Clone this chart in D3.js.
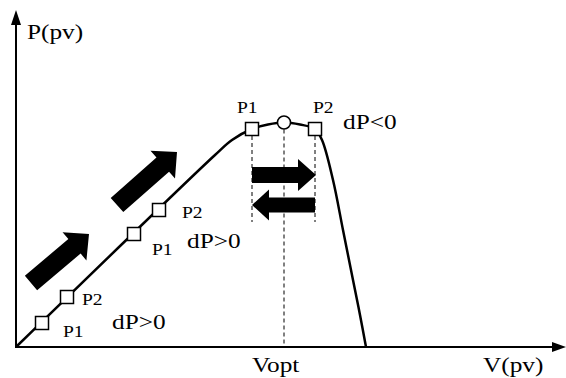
<!DOCTYPE html>
<html>
<head>
<meta charset="utf-8">
<script src="https://cdn.jsdelivr.net/npm/d3@7"></script>
<style>
  body { margin: 0; background: #fff; }
</style>
</head>
<body>
<script>
// P-V curve of a PV panel (arbitrary units)
const curveV = [0, 19.9, 21.6, 23.6, 25.2, 26.8, 28.4, 29.9, 30.6, 31.7, 32.7, 33.7, 34.4, 35.0];
const curveP = [0, 19.2, 20.7, 21.8, 22.25, 22.45, 22.25, 21.8, 20.7, 16.7, 11.7, 6.7, 3.2, 0];

// operating points (squares) and the MPP (circle)
const pointV = [2.6, 5.1, 11.8, 14.3, 23.6, 29.9];
const pointP = [2.4, 5.0, 11.3, 13.7, 21.8, 21.8];
const pointLabel = ["P1", "P2", "P1", "P2", "P1", "P2"];
const mppV = 26.8, mppP = 22.45;

const axisLabels = ["V(pv)", "P(pv)", "Vopt"];

const W = 566, H = 378;
const svg = d3.select("body").append("svg").attr("width", W).attr("height", H)
    .attr("font-family", "'Liberation Serif', 'Times New Roman', Times, serif");

const x = d3.scaleLinear().domain([0, 55]).range([16, 566]);
const y = d3.scaleLinear().domain([0, 33.5]).range([347, 12]);

function setattrs(shape, dict) {
    for (let [prop, val] of Object.entries(dict)) shape.attr(prop, val);
}

// text is a bit wider than plain Times in the source image
function label(t, tx, ty, size) {
    return svg.append("text")
        .attr("transform", `translate(${tx},${ty}) scale(1.15,1)`)
        .attr("font-size", size)
        .text(t);
}

// block arrow from (x0,y0) to tip (x1,y1)
function blockArrow(x0, y0, x1, y1, bw, hw, hl) {
    const len = Math.hypot(x1 - x0, y1 - y0);
    const ang = Math.atan2(y1 - y0, x1 - x0) * 180 / Math.PI;
    const pts = [[0, -bw/2], [len - hl, -bw/2], [len - hl, -hw/2], [len, 0],
                 [len - hl, hw/2], [len - hl, bw/2], [0, bw/2]];
    svg.append("polygon")
        .attr("points", pts.map(p => p.join(",")).join(" "))
        .attr("transform", `translate(${x0},${y0}) rotate(${ang})`)
        .attr("fill", "#000");
}

// axes
svg.append("line").attr("x1", x(0)).attr("y1", y(0)).attr("x2", W - 12).attr("y2", y(0))
    .attr("stroke", "#000").attr("stroke-width", 2);
svg.append("polygon").attr("points", `${W},${y(0)} ${W-14},${y(0)-5} ${W-14},${y(0)+5}`);
svg.append("line").attr("x1", x(0)).attr("y1", y(0) + 1).attr("x2", x(0)).attr("y2", 22)
    .attr("stroke", "#000").attr("stroke-width", 2);
svg.append("polygon").attr("points", `${x(0)},10 ${x(0)-5},25 ${x(0)+5},25`);

// dashed guides
const dash = {"stroke": "#000", "stroke-width": 1, "stroke-dasharray": "4,3"};
setattrs(svg.append("line"), {...dash, x1: x(pointV[4]), x2: x(pointV[4]), y1: y(pointP[4]), y2: 222});
setattrs(svg.append("line"), {...dash, x1: x(pointV[5]), x2: x(pointV[5]), y1: y(pointP[5]), y2: 222});
setattrs(svg.append("line"), {...dash, x1: x(mppV), x2: x(mppV), y1: y(mppP), y2: y(0)});

// P-V curve
const line = d3.line().x(d => x(d[0])).y(d => y(d[1])).curve(d3.curveCatmullRom);
svg.append("path")
    .datum(d3.zip(curveV, curveP))
    .attr("d", line)
    .attr("fill", "none").attr("stroke", "#000").attr("stroke-width", 2.5);

// hill-climb arrows
blockArrow(31, 283, 89, 234, 19, 37, 19);
blockArrow(117, 205, 177, 152, 19, 37, 19);
blockArrow(x(pointV[4]), 175, x(pointV[5]) + 1, 175, 16, 32, 18);
blockArrow(x(pointV[5]), 205, x(pointV[4]), 205, 15, 31, 17);

// operating points
svg.selectAll("rect.pt")
    .data(d3.zip(pointV, pointP))
    .join("rect")
    .attr("class", "pt")
    .attr("x", d => x(d[0]) - 6.5).attr("y", d => y(d[1]) - 6.5)
    .attr("width", 13).attr("height", 13)
    .attr("fill", "#fff").attr("stroke", "#000").attr("stroke-width", 1.5);
svg.append("circle").attr("cx", x(mppV)).attr("cy", y(mppP)).attr("r", 6.5)
    .attr("fill", "#fff").attr("stroke", "#000").attr("stroke-width", 1.5);

// point labels (offset from each marker)
const labelOff = [[21, 14], [15, 8], [18, 21], [23, 8], [-15, -16], [-2, -16]];
pointLabel.forEach((t, i) =>
    label(t, x(pointV[i]) + labelOff[i][0], y(pointP[i]) + labelOff[i][1], 17));

// dP annotations
label("dP>0", 112, 329, 22);
label("dP>0", 187, 248, 22);
label("dP<0", 343, 129, 22);

// axis labels
label(axisLabels[1], 27, 39, 22);
label(axisLabels[0], 483, 372, 22);
label(axisLabels[2], 252, 372, 22);
</script>
</body>
</html>
